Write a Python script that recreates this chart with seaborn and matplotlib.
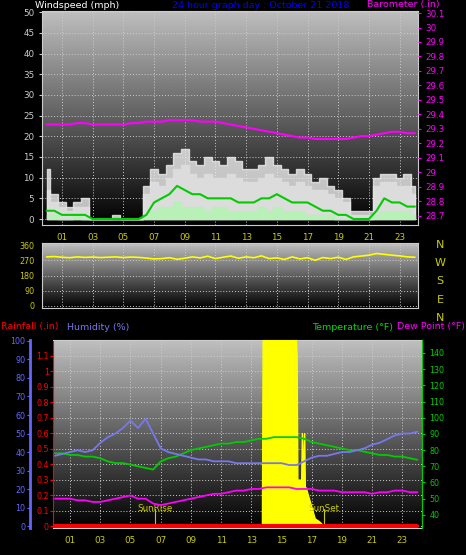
import numpy as np
import matplotlib
matplotlib.use("Agg")
import matplotlib.pyplot as plt
import seaborn as sns

sns.set_style("dark")
plt.rcParams['font.family'] = ['DejaVu Sans']

hours = [i * 0.5 for i in range(49)]
hour_ticks = [1, 3, 5, 7, 9, 11, 13, 15, 17, 19, 21, 23]
hour_labels = ["01", "03", "05", "07", "09", "11", "13", "15", "17", "19", "21", "23"]

wind_gust = [12, 6, 4, 3, 4, 5, 0, 0, 0, 1, 0, 0, 0, 8, 12, 11, 13, 16, 17, 14, 13, 15, 14, 13, 15,
             14, 12, 12, 13, 15, 13, 12, 11, 12, 11, 9, 10, 8, 7, 5, 2, 2, 2, 10, 11, 11, 10, 11, 8]
wind_gust2 = [7, 4, 3, 2, 3, 3, 0, 0, 0, 0, 0, 0, 0, 6, 9, 8, 10, 12, 13, 11, 10, 11, 10, 10, 11,
              10, 9, 9, 10, 11, 10, 9, 8, 9, 8, 7, 7, 6, 5, 4, 1, 1, 1, 8, 9, 9, 8, 8, 6]
wind_avg = [2, 2, 1, 1, 1, 1, 0, 0, 0, 0, 0, 0, 0, 1, 4, 5, 6, 8, 7, 6, 6, 5, 5, 5, 5,
            4, 4, 4, 5, 5, 6, 5, 4, 4, 4, 3, 2, 2, 1, 1, 0, 0, 0, 2, 5, 4, 4, 3, 3]
wind_low = [1, 1, 0, 0, 1, 0, 0, 0, 0, 0, 0, 0, 0, 1, 2, 3, 3, 4, 3, 3, 3, 2, 3, 3, 2,
            2, 2, 2, 3, 2, 3, 2, 2, 2, 1, 1, 1, 1, 0, 0, 0, 0, 0, 1, 2, 2, 2, 2, 1]
barometer = [29.33, 29.33, 29.33, 29.33, 29.34, 29.34, 29.33, 29.33, 29.33, 29.33, 29.33, 29.34,
             29.34, 29.35, 29.35, 29.35, 29.36, 29.36, 29.36, 29.36, 29.35, 29.35, 29.35, 29.34,
             29.33, 29.32, 29.31, 29.30, 29.29, 29.28, 29.27, 29.26, 29.25, 29.24, 29.24, 29.23,
             29.23, 29.23, 29.23, 29.23, 29.24, 29.25, 29.25, 29.26, 29.27, 29.28, 29.28, 29.27, 29.27]
wind_dir = [290, 292, 288, 285, 290, 287, 289, 286, 288, 290, 286, 289, 287, 283, 278, 280,
            285, 276, 282, 290, 284, 294, 280, 288, 295, 282, 290, 285, 296, 280, 284, 275,
            290, 278, 285, 270, 286, 280, 288, 275, 290, 295, 300, 310, 305, 300, 296, 290, 288]
humidity = [38, 39, 40, 41, 40, 41, 45, 48, 50, 53, 57, 53, 58, 50, 42, 40, 39, 38, 37, 36,
            36, 35, 35, 35, 34, 34, 34, 34, 34, 34, 34, 33, 33, 35, 37, 38, 38, 39, 40, 40,
            41, 42, 44, 45, 47, 49, 50, 50, 51]
temperature = [78, 78, 77, 77, 76, 76, 75, 73, 72, 72, 71, 70, 69, 68, 73, 75, 76, 78, 80, 81,
               82, 83, 84, 84, 85, 85, 86, 87, 87, 88, 88, 88, 88, 87, 85, 84, 83, 82, 81, 80,
               80, 79, 78, 77, 77, 76, 76, 75, 74]
dew_point = [50, 50, 50, 49, 49, 48, 48, 49, 50, 51, 52, 50, 50, 47, 46, 47, 48, 49, 50, 51,
             52, 53, 53, 54, 55, 55, 56, 56, 57, 57, 57, 57, 56, 56, 56, 55, 55, 55, 54, 54,
             54, 54, 53, 54, 54, 55, 55, 54, 54]
solar_hours = [13.7, 13.75, 15.95, 16.0, 16.05, 16.3, 16.35, 16.4, 16.5, 16.55, 16.6, 16.9, 17.2, 17.5, 17.8]
solar = [0, 1.2, 1.2, 1.1, 0.3, 0.3, 0.6, 0.3, 0.6, 0.2, 0.25, 0.15, 0.05, 0.03, 0]
rainfall = [0.0] * 49

W, H = 466, 555
fig = plt.figure(figsize=(W / 100, H / 100), dpi=100, facecolor="black")

def ax_px(x0, y0, x1, y1):
    return fig.add_axes([x0 / W, 1 - y1 / H, (x1 - x0) / W, (y1 - y0) / H])

def style(ax, grad_lo=0.0, grad_hi=0.75):
    grad = np.linspace(grad_hi, grad_lo, 256).reshape(-1, 1)
    ax.imshow(grad, cmap="gray", vmin=0, vmax=1, aspect="auto", extent=[0, 1, 0, 1],
              transform=ax.transAxes, zorder=0)
    ax.set_facecolor("black")
    for s in ax.spines.values():
        s.set_color("#cccccc")
        s.set_linewidth(0.8)
    ax.grid(True, color="#cccccc", linestyle=(0, (1, 2)), linewidth=0.7, zorder=1)

FS = 6.3

# ---- top panel: wind + barometer
ax1 = ax_px(42, 11, 418, 225)
style(ax1)
ax1.set_xlim(-0.3, 24.2)
ax1.set_ylim(-1.45, 50.3)
ax1.fill_between(hours, wind_gust2, 0, step="mid", color="#999999", zorder=2)
ax1.fill_between(hours, wind_gust, 0, step="mid", color="#eeeeee", zorder=2, alpha=0.8)
ax1.fill_between(hours, wind_low, 0, step="mid", color="#b8f0b8", zorder=3)
sns.lineplot(x=hours, y=wind_avg, ax=ax1, color="#00cc00", linewidth=1.5, zorder=4)
ax1.set_yticks(range(0, 51, 5))
ax1.set_xticks(hour_ticks)
ax1.set_xticklabels(hour_labels)
ax1.tick_params(axis="y", colors="#cccccc", labelsize=FS, length=2)
ax1.tick_params(axis="x", colors="#cccc00", labelsize=FS, length=2)
ax1b = ax1.twinx()
ax1b.set_ylim(28.636, 30.114)
sns.lineplot(x=hours, y=barometer, ax=ax1b, color="#ff00ff", linewidth=1.5)
ax1b.set_yticks([28.7, 28.8, 28.9, 29.0, 29.1, 29.2, 29.3, 29.4, 29.5, 29.6, 29.7, 29.8, 29.9, 30.0, 30.1])
ax1b.set_yticklabels(["28.7", "28.8", "28.9", "29", "29.1", "29.2", "29.3", "29.4", "29.5",
                      "29.6", "29.7", "29.8", "29.9", "30", "30.1"])
ax1b.tick_params(axis="y", colors="#ff00ff", labelsize=FS, length=2)
ax1b.grid(False)
for s in ax1b.spines.values():
    s.set_visible(False)
ax1.set_xlabel(""); ax1.set_ylabel(""); ax1b.set_ylabel("")
fig.text(35 / W, 1 - 5 / H, "Windspeed (mph)", color="white", fontsize=6.8, va="center")
fig.text(172 / W, 1 - 5 / H, "24 hour graph day : October 21 2018", color="#0000ff", fontsize=6.8, va="center")
fig.text(440 / W, 1 - 5 / H, "Barometer (.in)", color="#ff00ff", fontsize=6.8, va="center", ha="right")

# ---- middle panel: wind direction
ax2 = ax_px(42, 243, 418, 308)
style(ax2)
ax2.set_xlim(-0.3, 24.2)
ax2.set_ylim(-12, 372)
sns.lineplot(x=hours, y=wind_dir, ax=ax2, color="#ffff00", linewidth=1.2, zorder=3)
ax2.set_yticks([0, 90, 180, 270, 360])
ax2.set_xticks(hour_ticks)
ax2.set_xticklabels([])
ax2.tick_params(axis="y", colors="#cccc00", labelsize=5.8, length=2)
ax2.tick_params(axis="x", length=0)
ax2.set_xlabel(""); ax2.set_ylabel("")
for lab, yy in zip(["N", "W", "S", "E", "N"], [245, 263, 281, 300, 318]):
    fig.text(440 / W, 1 - yy / H, lab, color="#cccc00", fontsize=8, ha="center", va="center")

# ---- bottom panel
ax3 = ax_px(53, 340, 422, 528)
style(ax3)
ax3.set_xlim(-0.13, 24.3)
ax3.set_ylim(-0.012, 1.2)
ax3.fill_between(solar_hours, solar, 0, color="#ffff00", zorder=3)
sns.lineplot(x=hours, y=rainfall, ax=ax3, color="#ff0000", linewidth=3, zorder=6)
ax3.axvline(6.6, ymax=0.1, color="#cccc00", linewidth=0.8, zorder=4)
ax3.axvline(17.8, ymax=0.1, color="#cccc00", linewidth=0.8, zorder=4)
ax3.text(6.6, 0.095, "SunRise", color="#cccc00", fontsize=6.3, ha="center", zorder=5)
ax3.text(17.8, 0.095, "SunSet", color="#cccc00", fontsize=6.3, ha="center", zorder=5)
ax3.set_yticks([0, 0.1, 0.2, 0.3, 0.4, 0.5, 0.6, 0.7, 0.8, 0.9, 1, 1.1])
ax3.set_yticklabels(["0", "0.1", "0.2", "0.3", "0.4", "0.5", "0.6", "0.7", "0.8", "0.9", "1", "1.1"])
ax3.tick_params(axis="y", colors="#ff0000", labelsize=5.8, length=2, pad=1)
ax3.set_xticks(hour_ticks)
ax3.set_xticklabels(hour_labels)
ax3.tick_params(axis="x", colors="#cccc00", labelsize=FS, length=2)
ax3.spines["left"].set_color("#ff0000")
ax3.set_xlabel(""); ax3.set_ylabel("")

ax3t = ax3.twinx()
ax3t.set_ylim(31.9, 148)
sns.lineplot(x=hours, y=temperature, ax=ax3t, color="#00cc00", linewidth=1.3)
sns.lineplot(x=hours, y=dew_point, ax=ax3t, color="#ff00ff", linewidth=1.3)
ax3t.set_yticks(range(40, 141, 10))
ax3t.tick_params(axis="y", colors="#00cc00", labelsize=5.8, length=2)
ax3t.grid(False)
ax3t.set_ylabel("")
for s in ax3t.spines.values():
    s.set_visible(False)
ax3t.spines["right"].set_visible(True)
ax3t.spines["right"].set_color("#00cc00")

ax3h = ax3.twinx()
ax3h.set_ylim(-1, 100.5)
sns.lineplot(x=hours, y=humidity, ax=ax3h, color="#7777ee", linewidth=1.3)
ax3h.yaxis.set_ticks_position("left")
ax3h.spines["left"].set_position(("outward", 16.5))
ax3h.spines["left"].set_visible(True)
ax3h.spines["left"].set_color("#6666ff")
ax3h.spines["left"].set_linewidth(2)
for k in ["right", "top", "bottom"]:
    ax3h.spines[k].set_visible(False)
ax3h.set_yticks(range(0, 101, 10))
ax3h.tick_params(axis="y", colors="#6666ff", labelsize=5.8, length=2, pad=1.5,
                 labelleft=True, labelright=False)
ax3h.grid(False)
ax3h.set_ylabel("")

fig.text(1 / W, 1 - 327 / H, "Rainfall (.in)", color="#ff0000", fontsize=6.8, va="center")
fig.text(67 / W, 1 - 327 / H, "Humidity (%)", color="#7777ee", fontsize=6.8, va="center")
fig.text(312 / W, 1 - 327 / H, "Temperature (°F)", color="#00dd00", fontsize=6.8, va="center", ha="left")
fig.text(465 / W, 1 - 327 / H, "Dew Point (°F)", color="#ff00ff", fontsize=6.8, va="center", ha="right")

fig.savefig("out.png", dpi=100, facecolor="black")
